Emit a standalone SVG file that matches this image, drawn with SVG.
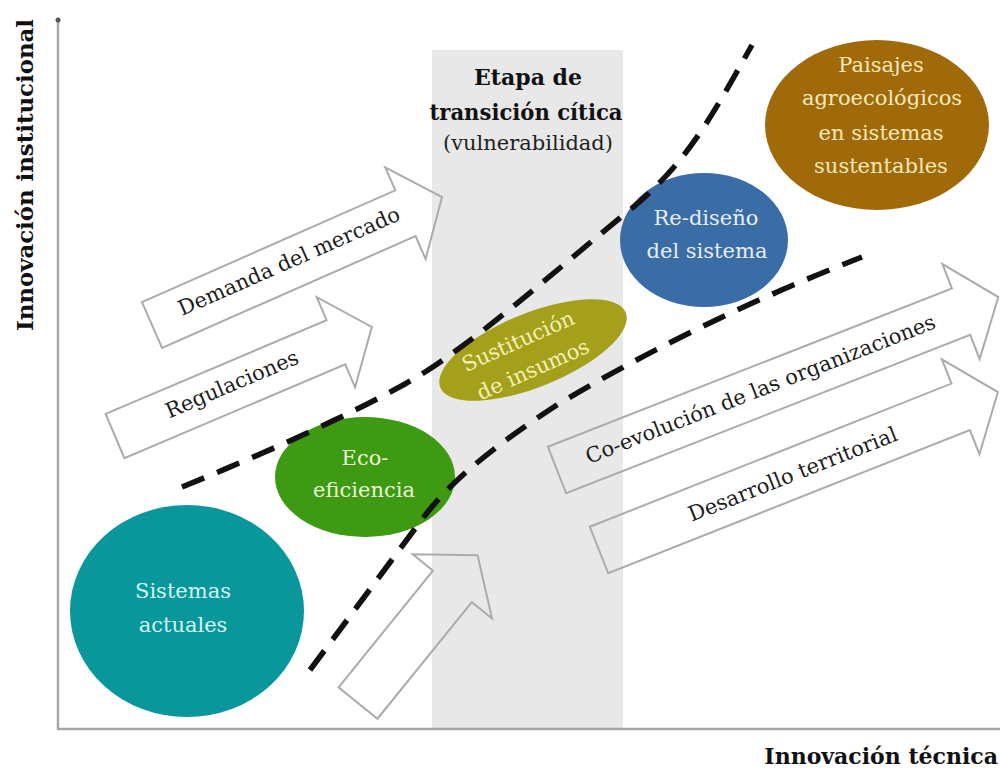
<svg xmlns="http://www.w3.org/2000/svg" width="1000" height="770" viewBox="0 0 1000 770">
<style>
.axis{stroke:#a6a6a6;stroke-width:2.5;fill:none}
.arr{fill:none;stroke:#ababab;stroke-width:2;stroke-linejoin:miter}
.lbl{font-family:"DejaVu Serif","Liberation Serif",serif;font-size:21px;fill:#1c1c1c;text-anchor:middle}
.in{font-family:"DejaVu Serif","Liberation Serif",serif;font-size:21px;text-anchor:middle}
.ax{font-family:"DejaVu Serif","Liberation Serif",serif;font-size:22px;font-weight:bold;fill:#111}
.dash{fill:none;stroke:#111;stroke-width:5.5;stroke-dasharray:24 14}
</style>
<rect width="1000" height="770" fill="#ffffff"/>
<g id="band">
<rect x="432" y="50" width="191" height="678" fill="#e8e8e8"/>
<text class="ax" x="528" y="85" text-anchor="middle" font-size="20">Etapa de</text>
<text class="ax" x="526" y="120" text-anchor="middle" font-size="20" textLength="193" lengthAdjust="spacingAndGlyphs">transición cítica</text>
<text class="in" x="528" y="150" fill="#222" font-size="22">(vulnerabilidad)</text>
</g>
<g id="axes">
<line class="axis" x1="58" y1="20" x2="58" y2="729"/>
<line class="axis" x1="57" y1="729" x2="1000" y2="729"/>
<circle cx="58" cy="20" r="2.5" fill="#555"/>
<text class="ax" transform="translate(33,175) rotate(-90)" text-anchor="middle" textLength="312" lengthAdjust="spacingAndGlyphs">Innovación institucional</text>
<text class="ax" x="998" y="764" text-anchor="end">Innovación técnica</text>
</g>
<g id="arrow-demanda" transform="translate(152,325) rotate(-23.8)">
<path class="arr" d="M0,-25 H277 V-50 L317,0 L277,50 V25 H0 Z"/>
<text class="lbl" x="151" y="4">Demanda del mercado</text>
</g>
<g id="arrow-regulaciones" transform="translate(115,436) rotate(-23)">
<path class="arr" d="M0,-24 H240 V-49 L279,0 L240,49 V24 H0 Z"/>
<text class="lbl" x="128" y="5">Regulaciones</text>
</g>
<g id="arrow-coevolucion" transform="translate(557,470) rotate(-21.4)">
<path class="arr" d="M0,-25 H434 V-51 L474,0 L434,51 V25 H0 Z"/>
<text class="lbl" x="219" y="6">Co-evolución de las organizaciones</text>
</g>
<g id="arrow-desarrollo" transform="translate(599,550) rotate(-21.6)">
<path class="arr" d="M0,-25 H389 V-51 L429,0 L389,51 V25 H0 Z"/>
<text class="lbl" x="208" y="8">Desarrollo territorial</text>
</g>
<g id="arrow-up" transform="translate(358,703) rotate(-51)">
<path class="arr" d="M0,-25 H150 V-51 L190,0 L150,51 V25 H0 Z"/>
</g>
<g id="sistemas-actuales">
<ellipse cx="187" cy="611" rx="117" ry="106" fill="#0a979b"/>
<text class="in" x="183" y="598" fill="#d2f6f1">Sistemas</text>
<text class="in" x="183" y="632" fill="#d2f6f1">actuales</text>
</g>
<g id="eco-eficiencia">
<ellipse cx="365" cy="477" rx="90" ry="60" fill="#3d9a12"/>
<text class="in" x="365" y="465" fill="#eaf6d6">Eco-</text>
<text class="in" x="364" y="497" fill="#eaf6d6">eficiencia</text>
</g>
<g id="sustitucion-insumos">
<ellipse cx="533" cy="350" rx="100" ry="37" fill="#a5a01c" transform="rotate(-22 533 350)"/>
<g transform="translate(533,350) rotate(-24)">
<text class="in" x="-10" y="-7" fill="#f3f0b4" font-size="22">Sustitución</text>
<text class="in" x="-8" y="25" fill="#f3f0b4" font-size="22">de insumos</text>
</g>
</g>
<g id="rediseno-sistema">
<ellipse cx="704" cy="240" rx="84" ry="67" fill="#3a6da5"/>
<text class="in" x="706" y="225" fill="#e6edf7">Re-diseño</text>
<text class="in" x="707" y="258" fill="#e6edf7">del sistema</text>
</g>
<g id="paisajes">
<ellipse cx="877" cy="125" rx="112" ry="85" fill="#a06a0a"/>
<text class="in" x="881" y="72" fill="#f7e8b8">Paisajes</text>
<text class="in" x="882" y="105" fill="#f7e8b8">agroecológicos</text>
<text class="in" x="881" y="140" fill="#f7e8b8">en sistemas</text>
<text class="in" x="881" y="173" fill="#f7e8b8">sustentables</text>
</g>
<g id="connectors">
<path class="dash" d="M182,487 C260,455 340,420 405,384 S565,262 625,214 S710,120 752,45"/>
<path class="dash" d="M310,670 L420,522 C445,488 480,455 560,403 Q700,320 862,257"/>
</g>
</svg>
